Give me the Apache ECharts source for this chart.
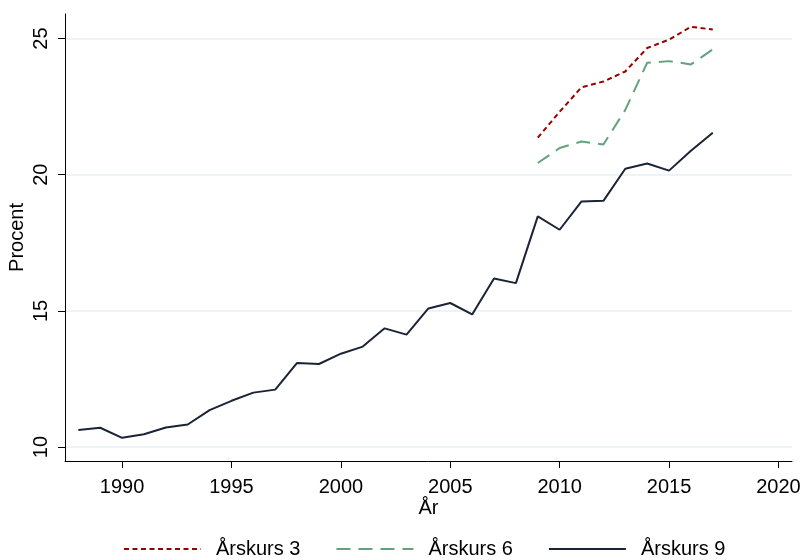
<!DOCTYPE html>
<html>
<head>
<meta charset="utf-8">
<script src="https://cdn.jsdelivr.net/npm/echarts@6/dist/echarts.min.js"></script>
<style>
  html, body { margin: 0; padding: 0; background: #fff; }
  #chart { width: 802px; height: 560px; }
</style>
</head>
<body>
<div id="chart"></div>
<script>
  // data
  const years9 = [1988, 1989, 1990, 1991, 1992, 1993, 1994, 1995, 1996, 1997, 1998, 1999, 2000, 2001, 2002,
    2003, 2004, 2005, 2006, 2007, 2008, 2009, 2010, 2011, 2012, 2013, 2014, 2015, 2016, 2017];
  const ak9 = [10.63, 10.71, 10.34, 10.47, 10.72, 10.83, 11.36, 11.70, 12.00, 12.11, 13.09, 13.05, 13.43, 13.69, 14.36,
    14.13, 15.09, 15.29, 14.87, 16.19, 16.02, 18.47, 17.98, 19.02, 19.04, 20.22, 20.41, 20.15, 20.88, 21.54];
  const yearsLate = [2009, 2010, 2011, 2012, 2013, 2014, 2015, 2016, 2017];
  const ak6 = [20.43, 20.98, 21.22, 21.11, 22.38, 24.11, 24.17, 24.05, 24.60];
  const ak3 = [21.36, 22.31, 23.21, 23.42, 23.79, 24.65, 24.96, 25.43, 25.33];

  const xTicks = [1990, 1995, 2000, 2005, 2010, 2015, 2020];
  const yTicks = [10, 15, 20, 25];

  const pair = (xs, ys) => xs.map((x, i) => [x, ys[i]]);
  const font = 'Liberation Sans, Arial, sans-serif';

  const chart = echarts.init(document.getElementById('chart'));
  chart.setOption({
    animation: false,
    textStyle: { fontFamily: font },
    grid: { left: 65, right: 10, top: 14, bottom: 99, containLabel: false, outerBoundsMode: 'none' },
    legend: {
      left: 123,
      top: 539,
      padding: 0,
      itemWidth: 77,
      itemHeight: 14,
      itemGap: 35,
      itemStyle: { opacity: 0 },
      textStyle: { fontSize: 20, color: '#000', fontFamily: font, padding: [0, 0, 0, 10] },
      data: ['Årskurs 3', 'Årskurs 6', 'Årskurs 9']
    },
    xAxis: {
      type: 'value',
      min: 1987.39,
      max: 2020.62,
      name: 'År',
      nameLocation: 'middle',
      nameGap: 37,
      nameMoveOverlap: false,
      nameTextStyle: { fontSize: 20, color: '#000' },
      axisLine: { show: true, lineStyle: { color: '#000', width: 1 } },
      axisTick: { show: true, length: 7, customValues: xTicks, lineStyle: { color: '#000' } },
      axisLabel: { customValues: xTicks, fontSize: 20, color: '#000', margin: 16, formatter: (v) => String(v) },
      splitLine: { show: false }
    },
    yAxis: {
      type: 'value',
      min: 9.49,
      max: 25.9,
      name: 'Procent',
      nameLocation: 'middle',
      nameGap: 38,
      nameRotate: 90,
      nameMoveOverlap: false,
      nameTextStyle: { fontSize: 20, color: '#000' },
      axisLine: { show: true, lineStyle: { color: '#000', width: 1 } },
      axisTick: { show: true, length: 7, customValues: yTicks, lineStyle: { color: '#000' } },
      axisLabel: { customValues: yTicks, fontSize: 20, color: '#000', rotate: 90, margin: 14 },
      splitLine: { show: true, lineStyle: { color: '#e9f0f2', width: 1.5 } }
    },
    series: [
      {
        name: 'Årskurs 3',
        type: 'line',
        symbol: 'none',
        data: pair(yearsLate, ak3),
        lineStyle: { color: '#990000', width: 2, type: [5, 3.5] },
        itemStyle: { color: '#990000' }
      },
      {
        name: 'Årskurs 6',
        type: 'line',
        symbol: 'none',
        data: pair(yearsLate, ak6),
        lineStyle: { color: '#62a27c', width: 2, type: [14, 8] },
        itemStyle: { color: '#62a27c' }
      },
      {
        name: 'Årskurs 9',
        type: 'line',
        symbol: 'none',
        data: pair(years9, ak9),
        lineStyle: { color: '#1a2436', width: 2, type: 'solid' },
        itemStyle: { color: '#1a2436' }
      }
    ]
  });
</script>
</body>
</html>
